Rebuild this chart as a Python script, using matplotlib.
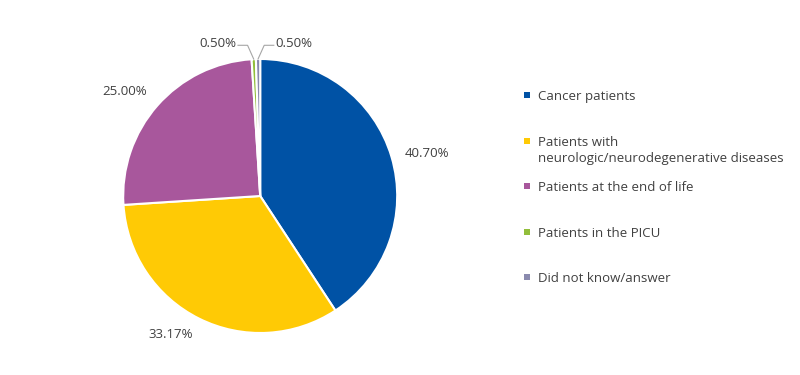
import numpy as np
import matplotlib.pyplot as plt
from matplotlib.patches import Rectangle

categories = [
    "Cancer patients",
    "Patients with\nneurologic/neurodegenerative diseases",
    "Patients at the end of life",
    "Patients in the PICU",
    "Did not know/answer",
]
values = [40.70, 33.17, 25.00, 0.50, 0.50]
pct_labels = ["40.70%", "33.17%", "25.00%", "0.50%", "0.50%"]
colors = ["#0052A5", "#FFCA05", "#A8579C", "#92BE3B", "#8A8AAE"]

plt.rcParams["font.family"] = ["Open Sans", "DejaVu Sans"]
txt_color = "#404040"
fs = 9.5

fig = plt.figure(figsize=(8, 3.75), dpi=100)
ax = fig.add_axes([0.154, 0.112, 0.3425, 0.7307])

wedges, _ = ax.pie(
    values,
    colors=colors,
    startangle=90,
    counterclock=False,
    wedgeprops=dict(edgecolor="white", linewidth=1.5),
)
ax.set_xlim(-1, 1)
ax.set_ylim(-1, 1)

# big slices: label just outside the edge
for w, lab in zip(wedges[:3], pct_labels[:3]):
    ang = np.deg2rad((w.theta1 + w.theta2) / 2)
    c, s = np.cos(ang), np.sin(ang)
    ha = "left" if c > 0 else "right"
    va = "center" if abs(s) < 0.5 else ("bottom" if s > 0 else "top")
    ax.text(1.1 * c, 1.08 * s, lab, ha=ha, va=va, fontsize=fs, color=txt_color)

# tiny slices: labels on top with leader lines
for w, lab, side in zip(wedges[3:], pct_labels[3:], [-1, 1]):
    ang = np.deg2rad((w.theta1 + w.theta2) / 2)
    ex, ey = np.cos(ang), np.sin(ang)
    elbow_x = ex + side * 0.045
    ly = 1.10
    tx = elbow_x + side * 0.07
    ax.plot([tx, elbow_x, ex], [ly, ly, ey], color="#A6A6A6", lw=0.8,
            clip_on=False)
    ax.text(tx + side * 0.015, ly + 0.015, lab,
            ha="right" if side < 0 else "left", va="center",
            fontsize=fs, color=txt_color)

# legend, one slot per entry like the original
y0 = 1 - 95 / 375
step = 45.5 / 375
for i, (name, col) in enumerate(zip(categories, colors)):
    y = y0 - i * step
    fig.add_artist(Rectangle((524 / 800, y - 3 / 375), 6 / 800, 6 / 375,
                             transform=fig.transFigure, color=col, lw=0))
    fig.text(538 / 800, y + 5 / 375, name, ha="left", va="top",
             fontsize=fs, color=txt_color, linespacing=1.35)

fig.savefig("out.png", dpi=100)
